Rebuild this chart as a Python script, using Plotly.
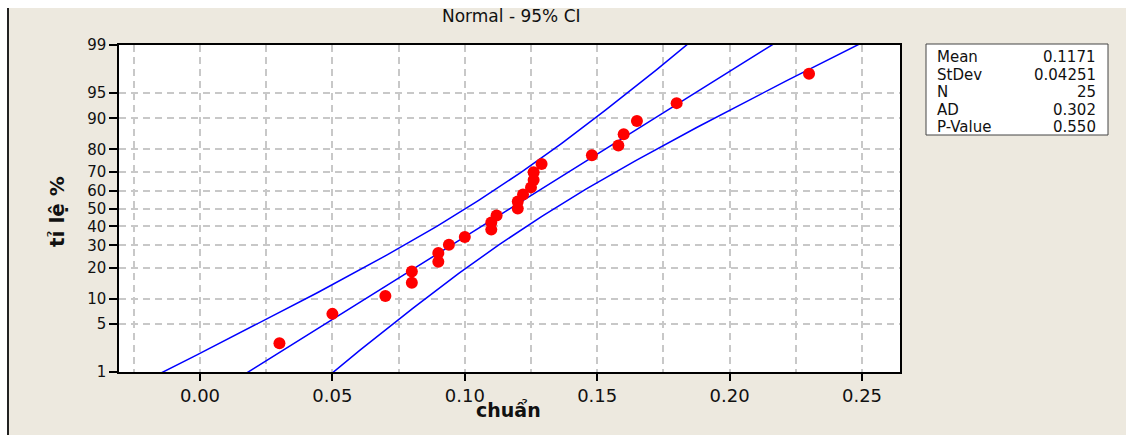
import plotly.graph_objects as go
import numpy as np
from statistics import NormalDist

# ---------------- data ----------------
x_values = [0.030, 0.050, 0.070, 0.080, 0.080, 0.090, 0.090, 0.094, 0.100, 0.110,
            0.110, 0.112, 0.120, 0.120, 0.122, 0.125, 0.126, 0.126, 0.129, 0.148,
            0.158, 0.160, 0.165, 0.180, 0.230]
percents = [2.76, 6.69, 10.63, 14.57, 18.50, 22.44, 26.38, 30.31, 34.25, 38.19,
            42.13, 46.06, 50.00, 53.94, 57.87, 61.81, 65.75, 69.69, 73.62, 77.56,
            81.50, 85.43, 89.37, 93.31, 97.24]
y_tick_percents = [1, 5, 10, 20, 30, 40, 50, 60, 70, 80, 90, 95, 99]
x_tick_values = [0.00, 0.05, 0.10, 0.15, 0.20, 0.25]
x_tick_labels = ["0.00", "0.05", "0.10", "0.15", "0.20", "0.25"]
stat_names = ["Mean", "StDev", "N", "AD", "P-Value"]
stat_values = ["0.1171", "0.04251", "25", "0.302", "0.550"]
mean_val = 0.1171
sd_val = 0.04251
n_val = 25

nd = NormalDist()
def z_of(p):
    return nd.inv_cdf(p / 100.0)

# fitted line and 95% CI from mean / sd
zline = np.linspace(-3.2, 3.2, 300)
fit_x = mean_val + sd_val * zline
se = np.sqrt(sd_val ** 2 / n_val * (1 + zline ** 2 / 2))
lo_x = fit_x - 1.96 * se
hi_x = fit_x + 1.96 * se

zmax = z_of(99)

# pixel helpers (plot area: x 119..900, y 45..372)
L, R, T, B = 119, 900, 45, 372
W, H = R - L, B - T
def px(xp):
    return (xp - L) / W
def py(yp):
    return (B - yp) / H

BEIGE = "#EDE9DF"
FONT = "DejaVu Sans"

fig = go.Figure()
for xs in (lo_x, fit_x, hi_x):
    fig.add_trace(go.Scatter(x=xs, y=zline, mode="lines",
                             line=dict(color="#0000FF", width=1.5),
                             hoverinfo="skip", showlegend=False))
fig.add_trace(go.Scatter(x=x_values, y=[z_of(p) for p in percents], mode="markers",
                         marker=dict(color="#FF0000", size=12, line=dict(width=0)),
                         showlegend=False))

grid_dash = "7px,5px"
fig.update_xaxes(range=[(L - 200) / 2648, (R - 200) / 2648],
                 tickvals=x_tick_values, ticktext=x_tick_labels,
                 ticks="outside", ticklen=7, tickwidth=1.5, tickcolor="black",
                 showline=True, linecolor="black", linewidth=1.5, mirror=True,
                 showgrid=True, gridcolor="#C8C8C8", gridwidth=1.5, griddash=grid_dash,
                 minor=dict(dtick=0.025, tick0=0, showgrid=True, gridcolor="#C8C8C8",
                            gridwidth=1.5, griddash=grid_dash, ticks=""),
                 zeroline=False,
                 tickfont=dict(family=FONT, size=18, color="#111"))
fig.update_yaxes(range=[-zmax, zmax],
                 tickvals=[z_of(p) for p in y_tick_percents],
                 ticktext=[str(p) for p in y_tick_percents],
                 ticks="outside", ticklen=8, tickwidth=1.5, tickcolor="black",
                 showline=True, linecolor="black", linewidth=1.5, mirror=True,
                 showgrid=True, gridcolor="#C8C8C8", gridwidth=1.5, griddash=grid_dash,
                 zeroline=False,
                 tickfont=dict(family=FONT, size=15, color="#111"))

shapes = [
    # white strips top and left
    dict(type="rect", xref="paper", yref="paper", x0=px(0), x1=px(1126), y0=py(8), y1=py(0),
         fillcolor="white", line=dict(width=0)),
    dict(type="rect", xref="paper", yref="paper", x0=px(0), x1=px(7), y0=py(435), y1=py(0),
         fillcolor="white", line=dict(width=0)),
    dict(type="line", xref="paper", yref="paper", x0=px(8), x1=px(8), y0=py(435), y1=py(8),
         line=dict(color="#222222", width=2)),
    # stats box
    dict(type="rect", xref="paper", yref="paper", x0=px(926), x1=px(1108), y0=py(135), y1=py(44),
         fillcolor="white", line=dict(color="#444444", width=1)),
]

ann = [
    dict(text="Normal - 95% CI", x=px(511), y=py(16), xref="paper", yref="paper",
         showarrow=False, xanchor="center", yanchor="middle",
         font=dict(family=FONT, size=17, color="#111")),
    dict(text="<b>chuẩn</b>", x=px(508), y=py(410), xref="paper", yref="paper",
         showarrow=False, xanchor="center", yanchor="middle",
         font=dict(family=FONT, size=19, color="#111")),
    dict(text="<b>tỉ lệ %</b>", x=px(57), y=py(212), xref="paper", yref="paper",
         showarrow=False, xanchor="center", yanchor="middle", textangle=-90,
         font=dict(family=FONT, size=20, color="#111")),
]
row_y = [57, 75, 92, 110, 127]
for name, val, ry in zip(stat_names, stat_values, row_y):
    ann.append(dict(text=name, x=px(935), y=py(ry), xref="paper", yref="paper",
                    showarrow=False, xanchor="left", yanchor="middle",
                    font=dict(family=FONT, size=15, color="#111")))
    ann.append(dict(text=val, x=px(1098), y=py(ry), xref="paper", yref="paper",
                    showarrow=False, xanchor="right", yanchor="middle",
                    font=dict(family=FONT, size=15, color="#111")))

fig.update_layout(width=1126, height=435,
                  margin=dict(l=L, r=1126 - R, t=T, b=435 - B, pad=0),
                  paper_bgcolor=BEIGE, plot_bgcolor="white",
                  shapes=shapes, annotations=ann, showlegend=False)

fig.write_html("out.html")
